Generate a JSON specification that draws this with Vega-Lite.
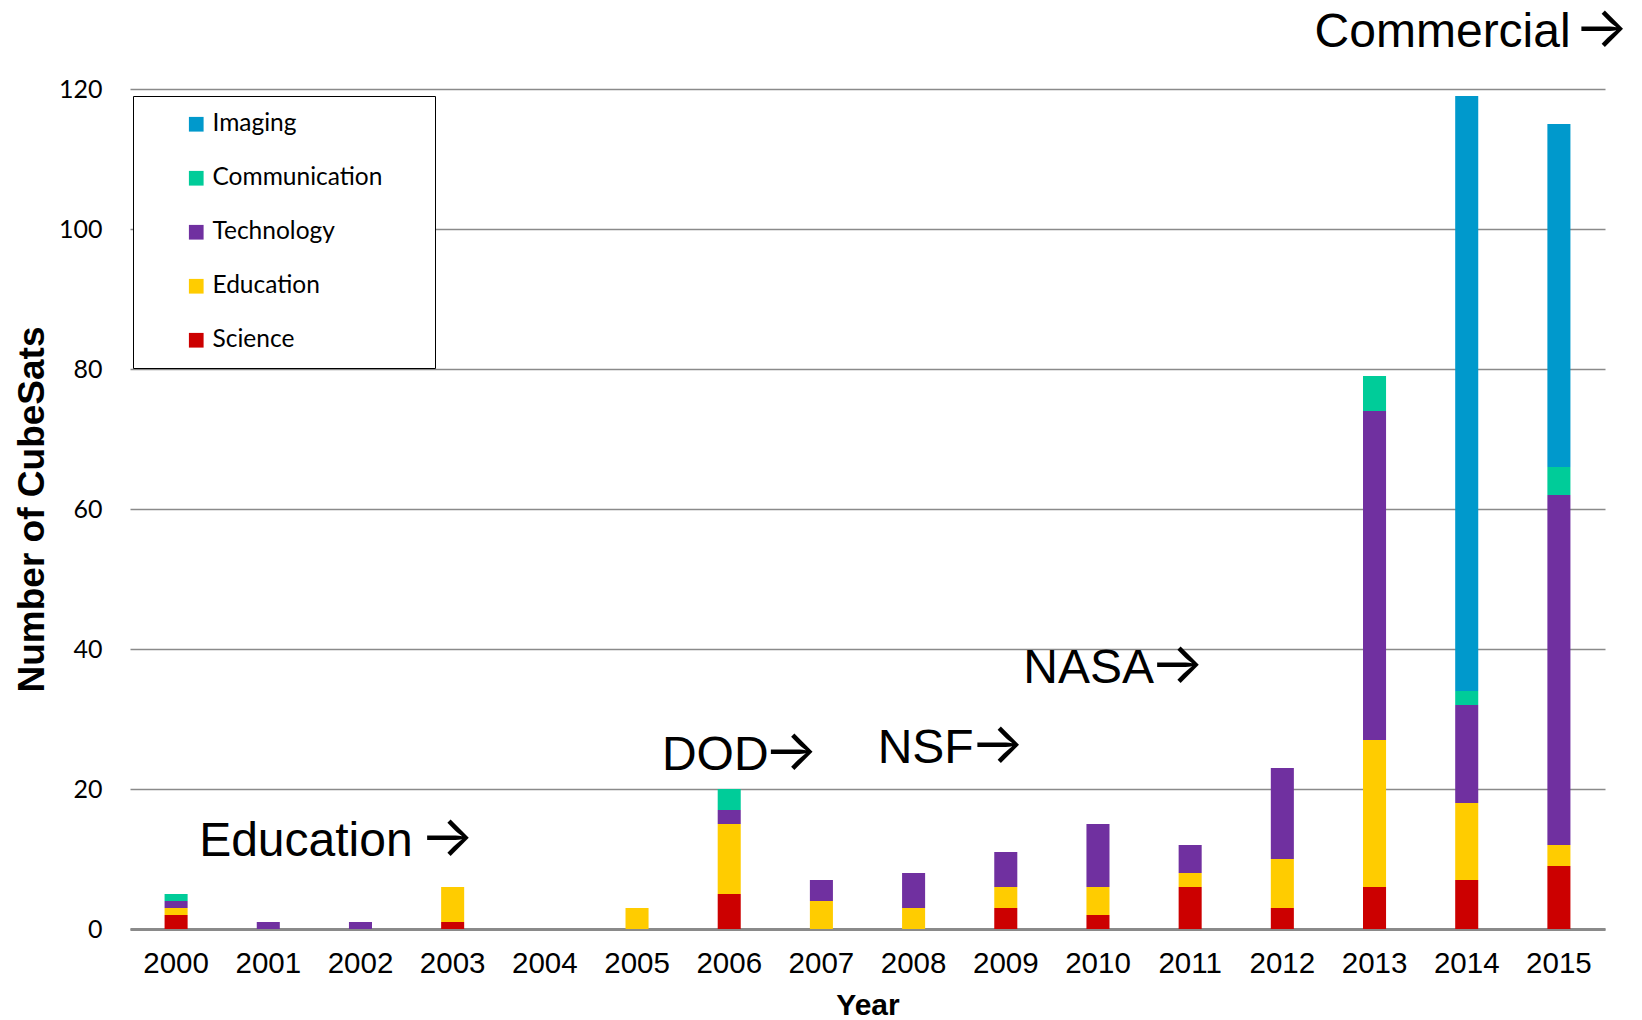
{
  "$schema": "https://vega.github.io/schema/vega-lite/v6.json",
  "autosize": {"type": "none"},
  "padding": {"left": 130, "top": 89, "right": 37, "bottom": 91},
  "width": 1475,
  "height": 840,
  "background": "white",
  "config": {"view": {"stroke": null}},
  "datasets": {
    "sats": [
      {"year": 2000, "category": "Science", "stackRank": 1, "count": 2},
      {"year": 2000, "category": "Education", "stackRank": 2, "count": 1},
      {"year": 2000, "category": "Technology", "stackRank": 3, "count": 1},
      {"year": 2000, "category": "Communication", "stackRank": 4, "count": 1},
      {"year": 2001, "category": "Technology", "stackRank": 3, "count": 1},
      {"year": 2002, "category": "Technology", "stackRank": 3, "count": 1},
      {"year": 2003, "category": "Science", "stackRank": 1, "count": 1},
      {"year": 2003, "category": "Education", "stackRank": 2, "count": 5},
      {"year": 2005, "category": "Education", "stackRank": 2, "count": 3},
      {"year": 2006, "category": "Science", "stackRank": 1, "count": 5},
      {"year": 2006, "category": "Education", "stackRank": 2, "count": 10},
      {"year": 2006, "category": "Technology", "stackRank": 3, "count": 2},
      {"year": 2006, "category": "Communication", "stackRank": 4, "count": 3},
      {"year": 2007, "category": "Education", "stackRank": 2, "count": 4},
      {"year": 2007, "category": "Technology", "stackRank": 3, "count": 3},
      {"year": 2008, "category": "Education", "stackRank": 2, "count": 3},
      {"year": 2008, "category": "Technology", "stackRank": 3, "count": 5},
      {"year": 2009, "category": "Science", "stackRank": 1, "count": 3},
      {"year": 2009, "category": "Education", "stackRank": 2, "count": 3},
      {"year": 2009, "category": "Technology", "stackRank": 3, "count": 5},
      {"year": 2010, "category": "Science", "stackRank": 1, "count": 2},
      {"year": 2010, "category": "Education", "stackRank": 2, "count": 4},
      {"year": 2010, "category": "Technology", "stackRank": 3, "count": 9},
      {"year": 2011, "category": "Science", "stackRank": 1, "count": 6},
      {"year": 2011, "category": "Education", "stackRank": 2, "count": 2},
      {"year": 2011, "category": "Technology", "stackRank": 3, "count": 4},
      {"year": 2012, "category": "Science", "stackRank": 1, "count": 3},
      {"year": 2012, "category": "Education", "stackRank": 2, "count": 7},
      {"year": 2012, "category": "Technology", "stackRank": 3, "count": 13},
      {"year": 2013, "category": "Science", "stackRank": 1, "count": 6},
      {"year": 2013, "category": "Education", "stackRank": 2, "count": 21},
      {"year": 2013, "category": "Technology", "stackRank": 3, "count": 47},
      {"year": 2013, "category": "Communication", "stackRank": 4, "count": 5},
      {"year": 2014, "category": "Science", "stackRank": 1, "count": 7},
      {"year": 2014, "category": "Education", "stackRank": 2, "count": 11},
      {"year": 2014, "category": "Technology", "stackRank": 3, "count": 14},
      {"year": 2014, "category": "Communication", "stackRank": 4, "count": 2},
      {"year": 2014, "category": "Imaging", "stackRank": 5, "count": 85},
      {"year": 2015, "category": "Science", "stackRank": 1, "count": 9},
      {"year": 2015, "category": "Education", "stackRank": 2, "count": 3},
      {"year": 2015, "category": "Technology", "stackRank": 3, "count": 50},
      {"year": 2015, "category": "Communication", "stackRank": 4, "count": 4},
      {"year": 2015, "category": "Imaging", "stackRank": 5, "count": 49}
    ],
    "notes": [
      {"label": "Education", "yearPos": 2000.25, "value": 10.4},
      {"label": "DOD", "yearPos": 2005.27, "value": 22.7},
      {"label": "NSF", "yearPos": 2007.61, "value": 23.7},
      {"label": "NASA", "yearPos": 2009.19, "value": 35.1},
      {"label": "Commercial", "yearPos": 2012.35, "value": 126}
    ],
    "arrows": [
      {"label": "→", "yearPos": 2002.94, "value": 10.4},
      {"label": "→", "yearPos": 2006.67, "value": 22.7},
      {"label": "→", "yearPos": 2008.91, "value": 23.7},
      {"label": "→", "yearPos": 2010.86, "value": 35.1},
      {"label": "→", "yearPos": 2015.46, "value": 126}
    ]
  },
  "layer": [
    {
      "data": {"name": "sats"},
      "mark": {"type": "bar"},
      "encoding": {
        "x": {
          "field": "year",
          "type": "ordinal",
          "scale": {
            "domain": [2000, 2001, 2002, 2003, 2004, 2005, 2006, 2007, 2008, 2009, 2010, 2011, 2012, 2013, 2014, 2015],
            "paddingInner": 0.75,
            "paddingOuter": 0.375
          },
          "axis": {
            "title": "Year",
            "titleFont": "Liberation Sans",
            "titleFontSize": 30,
            "titleFontWeight": "bold",
            "titleColor": "black",
            "titlePadding": 13,
            "labelFont": "Liberation Sans",
            "labelFontSize": 29.5,
            "labelColor": "black",
            "labelAngle": 0,
            "labelPadding": 20,
            "ticks": false,
            "domainColor": "#8a8a8a",
            "domainWidth": 3,
            "grid": false
          }
        },
        "y": {
          "field": "count",
          "type": "quantitative",
          "stack": "zero",
          "scale": {"domain": [0, 120], "nice": false},
          "axis": {
            "title": "Number of CubeSats",
            "titleFont": "Liberation Sans",
            "titleFontSize": 37,
            "titleFontWeight": "bold",
            "titleColor": "black",
            "titleAngle": -90,
            "titleBaseline": "alphabetic",
            "titleX": -87,
            "values": [0, 20, 40, 60, 80, 100, 120],
            "labelFont": "Lato",
            "labelFontSize": 25,
            "labelColor": "black",
            "labelPadding": 28,
            "ticks": false,
            "domain": false,
            "grid": true,
            "gridColor": "#8a8a8a",
            "gridWidth": 1.6
          }
        },
        "order": {"field": "stackRank", "type": "quantitative"},
        "color": {
          "field": "category",
          "type": "nominal",
          "sort": ["Imaging", "Communication", "Technology", "Education", "Science"],
          "scale": {
            "domain": ["Imaging", "Communication", "Technology", "Education", "Science"],
            "range": ["#0099CC", "#00CC99", "#7030A0", "#FFCC00", "#CC0000"]
          },
          "legend": {
            "title": "\u2800",
            "titleOrient": "right",
            "titleFontSize": 1,
            "titlePadding": 36,
            "titleColor": "white",
            "orient": "none",
            "legendX": 3,
            "legendY": 7,
            "strokeColor": "black",
            "fillColor": "white",
            "padding": 16,
            "rowPadding": 29,
            "symbolType": "square",
            "symbolSize": 216,
            "symbolStrokeWidth": 0,
            "symbolOffset": 35,
            "labelOffset": 4,
            "labelLimit": 400,
            "labelFont": "Lato",
            "labelFontSize": 24.5,
            "labelColor": "black"
          }
        }
      }
    },
    {
      "data": {"name": "notes"},
      "mark": {"type": "text", "align": "left", "baseline": "alphabetic", "font": "Liberation Sans", "fontSize": 48, "color": "black"},
      "encoding": {
        "x": {"field": "yearPos", "type": "quantitative", "scale": {"domain": [1999.5, 2015.5], "nice": false, "zero": false}, "axis": null},
        "y": {"field": "value", "type": "quantitative"},
        "text": {"field": "label"}
      }
    },
    {
      "data": {"name": "arrows"},
      "mark": {"type": "text", "align": "center", "baseline": "alphabetic", "font": "Inter", "fontSize": 57, "color": "black"},
      "encoding": {
        "x": {"field": "yearPos", "type": "quantitative", "scale": {"domain": [1999.5, 2015.5], "nice": false, "zero": false}, "axis": null},
        "y": {"field": "value", "type": "quantitative"},
        "text": {"field": "label"}
      }
    }
  ],
  "resolve": {"scale": {"x": "independent"}}
}
